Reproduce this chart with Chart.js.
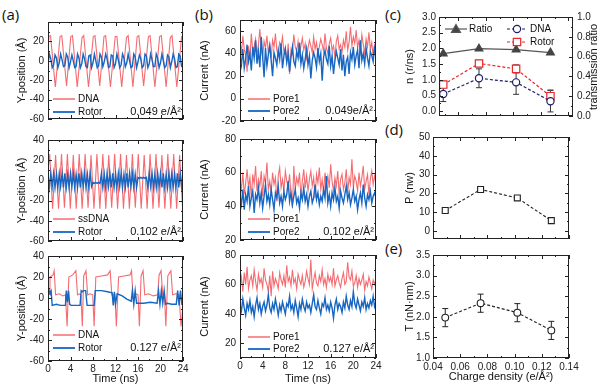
<!DOCTYPE html>
<html>
<head>
<meta charset="utf-8">
<script src="https://cdn.jsdelivr.net/npm/chart.js@4.4.0/dist/chart.umd.min.js"></script>
<style>
body { margin: 0; background: #fff; width: 601px; height: 388px; position: relative; overflow: hidden; }
canvas { position: absolute; }
.tag { position: absolute; font-family: 'Open Sans', sans-serif; font-size: 15px; line-height: 15px; color: #111; }
</style>
</head>
<body>
<div class="tag" style="left:2px;top:7px">(a)</div>
<div class="tag" style="left:195px;top:7px">(b)</div>
<div class="tag" style="left:385px;top:7px">(c)</div>
<div class="tag" style="left:385px;top:122px">(d)</div>
<div class="tag" style="left:385px;top:241px">(e)</div>
<script>
// ---- (a) rotor / DNA y-position traces, time in ns ----
var a1DnaT = [0, 0.15, 0.45, 1.3, 2.15, 2.45, 3.3, 4.05, 4.35, 5.2, 6.05, 6.35, 7.2, 8.05, 8.35, 9.2, 9.95, 10.25, 11.1, 11.95, 12.25, 13.1, 13.95, 14.25, 15.1, 15.85, 16.15, 17.0, 17.85, 18.15, 19.0, 19.85, 20.15, 21.0, 21.75, 22.05, 22.9, 23.75, 24];
var a1DnaY = [22, 25, 26, -27, 25, 26, -26, 25, 26, -27, 24, 26, -27, 25, 26, -26, 25, 26, -27, 25, 25, -27, 24, 26, -27, 25, 26, -26, 25, 26, -27, 25, 26, -27, 24, 26, -27, 25, 26];
// rotor sampled every 0.25 ns
var a1RotorY = [-3, 7, 2, -7, -4, 6, 3, -7, -2, 7,
  1, -6, -5, 7, 4, -7, -1, 6, 0, -7,
  -6, 7, 3, -7, -3, 7, 2, -6, -7, 5,
  6, -7, -2, 7, 0, -7, -5, 7, 4, -6,
  -1, 7, 2, -7, -6, 6, 5, -7, -3, 7,
  1, -7, -4, 7, 3, -6, -2, 7, 0, -7,
  -6, 7, 4, -7, -1, 6, 2, -7, -5, 7,
  5, -7, -3, 7, 1, -6, -6, 7, 3, -7,
  -2, 7, 0, -7, -5, 6, 4, -7, -1, 7,
  2, -7, -6, 7, 5, -6, -6];

var a2DnaT = [0, 0.3, 0.82, 1.35, 1.87, 2.4, 2.92, 3.45, 3.97, 4.5, 5.02, 5.55, 6.07, 6.6, 7.12, 7.65, 8.17, 8.7, 9.22, 9.75, 10.27, 10.8, 11.32, 11.85, 12.37, 12.9, 13.42, 13.95, 14.47, 15.0, 15.52, 16.05, 16.57, 17.1, 17.62, 18.15, 18.67, 19.2, 19.72, 20.25, 20.77, 21.3, 21.82, 22.35, 22.87, 23.4, 23.92, 24];
var a2DnaY = [10, 26, -28, 25, -28, 26, -27, 26, -28, 25, -28, 26, -28, 26, -27, 25, -28, 26, -28, 26, -28, 25, -27, 26, -28, 26, -28, 25, -28, 26, -27, 26, -28, 25, -28, 26, -28, 26, -27, 25, -28, 26, -28, 26, -28, 25, -27, -20];
var a2RotorY = [5, -7, 7, -6, 7, -7, 6, -7, 7, -6,
  7, -7, 7, -7, 6, -7, 7, -6, 7, -7,
  6, -7, 7, -7, 7, -6, 7, -7, 6, -7,
  7, -6, -2, -3, -2, -3, -2, -3, 7, -7,
  6, -7, 7, -6, 7, -7, 7, -7, 6, -7,
  7, -6, 7, -7, 6, -7, 7, -7, 7, -6,
  7, -7, 6, -7, 3, 2, 3, 2, 3, 2,
  3, -7, 7, -6, 7, -7, 6, -7, 7, -6,
  7, -7, 7, -7, 6, -7, 7, -6, 7, -7,
  6, -7, 7, -7, 7, -6, 6];

var a3DnaT = [0, 0.25, 0.35, 0.9, 1.1, 1.35, 2.0, 2.6, 3.1, 3.4, 3.7, 4.4, 4.95, 5.25, 5.6, 5.85, 6.1, 6.35, 6.75, 7.05, 7.5, 7.95, 8.2, 8.5, 9.5, 10.6, 11.05, 11.35, 11.9, 12.15, 12.55, 13.5, 14.6, 14.85, 15.1, 15.6, 16.0, 16.25, 16.55, 16.9, 17.2, 17.9, 18.7, 19.5, 19.75, 20.1, 20.4, 20.7, 20.95, 21.3, 21.85, 22.15, 22.7, 23.3, 23.65, 24];
var a3DnaY = [3, 4, 20, 22, 26, 3, 4, 2, 3, -27, 20, 22, 26, 3, 4, 3, -27, 21, 26, 3, 4, 3, -27, 20, 21, 22, 26, 3, 3, -27, 20, 21, 22, 26, 3, 4, 3, -27, 21, 26, 3, 4, 2, 3, 22, 26, 3, 3, -27, 21, 26, 3, 4, 3, -27, -8];
var a3RotorT = [0, 0.2, 0.35, 0.55, 0.75, 1.5, 2.2, 3.1, 3.25, 3.45, 3.65, 3.85, 4.1, 4.9, 5.7, 5.9, 6.1, 6.3, 6.7, 6.95, 7.6, 8.2, 8.4, 9.5, 10.6, 11.4, 11.6, 11.8, 12.0, 12.3, 13.2, 14.0, 14.8, 15.0, 15.25, 15.5, 15.75, 16.0, 17.0, 18.2, 19.4, 19.65, 19.9, 20.15, 20.4, 20.65, 20.9, 21.2, 22.0, 22.8, 23.05, 23.3, 23.55, 23.8, 24];
var a3RotorY = [4, 7, 5, 7, -7, -6, -7, -7, 7, -4, 7, -6, -7, -7, -7, 7, 6, 7, 7, -7, -7, -7, 7, 7, 6, 5, -7, 6, -6, 4, 2, -1, -3, 7, -6, 7, -5, -5, -5, -4, -5, 7, -6, 7, -5, 7, -6, -5, -6, -6, 7, -7, 7, -6, -6];

// ---- (b) pore currents, sampled evenly over 0-24 ns ----
var b1Pore1 = [52, 40, 56, 44, 38, 24, 47, 35, 58, 42, 46, 53, 39, 48, 62, 44, 37, 51, 45, 56,
  41, 48, 36, 52, 46, 58, 43, 39, 50, 47, 55, 41, 46, 33, 49, 22, 44, 40, 57, 46,
  42, 51, 38, 47, 54, 43, 49, 36, 45, 52, 47, 41, 55, 44, 50, 39, 46, 53, 48, 42,
  58, 45, 40, 49, 54, 43, 47, 37, 51, 56, 44, 48, 41, 52, 46, 60, 43, 50, 64, 47,
  55, 49, 61, 45, 52, 42, 57, 48, 40, 53, 46, 59, 44, 50, 37, 48, 45];
var b1Pore2 = [38, 30, 44, 27, 35, 48, 33, 40, 25, 46, 36, 52, 31, 42, 28, 55, 37, 19, 45, 29,
  39, 47, 34, 20, 41, 36, 30, 43, 35, 49, 27, 38, 44, 32, 40, 24, 37, 46, 33, 29,
  42, 36, 50, 31, 39, 27, 35, 44, 30, 38, 18, 34, 41, 36, 28, 45, 33, 40, 16, 37,
  43, 35, 31, 47, 29, 38, 22, 34, 42, 36, 30, 44, 25, 39, 20, 33, 37, 22, 41, 35,
  46, 30, 38, 43, 27, 52, 34, 40, 31, 45, 36, 29, 42, 38, 33, 47, 35];
var b2Pore1 = [56, 50, 60, 47, 54, 62, 51, 57, 45, 59, 53, 64, 49, 56, 52, 61, 46, 58, 54, 66,
  50, 55, 48, 60, 53, 57, 43, 58, 63, 51, 56, 49, 61, 55, 52, 59, 47, 39, 64, 50,
  57, 53, 60, 46, 55, 62, 51, 58, 49, 56, 61, 52, 57, 45, 59, 54, 63, 50, 56, 48,
  60, 53, 58, 51, 65, 55, 49, 57, 52, 61, 47, 56, 59, 50, 54, 62, 48, 57, 53, 68,
  51, 58, 55, 49, 60, 52, 57, 64, 50, 55, 59, 47, 56, 61, 53, 58, 54];
var b2Pore2 = [46, 41, 50, 38, 47, 43, 52, 40, 45, 49, 36, 47, 44, 51, 42, 48, 39, 46, 53, 43,
  47, 41, 50, 44, 38, 48, 45, 52, 42, 46, 40, 49, 44, 47, 55, 43, 48, 41, 46, 50,
  42, 45, 39, 48, 44, 51, 43, 47, 40, 46, 49, 42, 45, 53, 44, 48, 41, 46, 43, 50,
  45, 58, 42, 47, 40, 48, 44, 51, 43, 46, 39, 49, 45, 42, 47, 52, 44, 48, 41, 45,
  50, 43, 46, 38, 44, 48, 42, 53, 45, 40, 47, 44, 49, 42, 46, 48, 45];
var b3Pore1 = [58, 65, 55, 68, 60, 72, 57, 63, 66, 59, 70, 62, 56, 67, 61, 64, 58, 71, 63, 60,
  55, 66, 52, 69, 59, 64, 61, 57, 68, 63, 60, 66, 58, 73, 62, 65, 59, 70, 61, 64,
  57, 67, 63, 60, 66, 58, 62, 69, 64, 60, 77, 57, 63, 68, 61, 59, 66, 62, 70, 60,
  64, 58, 67, 62, 65, 60, 71, 59, 63, 66, 61, 58, 64, 68, 60, 62, 75, 65, 63, 69,
  59, 61, 66, 58, 64, 60, 63, 67, 56, 62, 59, 65, 61, 57, 63, 60, 64];
var b3Pore2 = [46, 42, 50, 44, 39, 47, 43, 49, 41, 45, 38, 46, 51, 43, 47, 40, 45, 48, 42, 46,
  53, 44, 41, 47, 43, 50, 45, 39, 46, 42, 48, 44, 40, 47, 45, 52, 43, 46, 41, 49,
  44, 38, 47, 43, 50, 45, 42, 48, 44, 46, 41, 47, 53, 45, 43, 49, 44, 40, 47, 45,
  51, 43, 46, 42, 48, 44, 37, 46, 50, 43, 47, 45, 41, 48, 44, 52, 46, 43, 49, 45,
  55, 47, 44, 50, 46, 42, 48, 45, 51, 43, 47, 44, 49, 46, 52, 45, 48];

// ---- (c)-(e) vs charge density ----
var chargeDensity = [0.049, 0.075, 0.102, 0.127];
var ratio = [0.63, 0.68, 0.67, 0.64];
var nDna = [0.55, 1.05, 0.92, 0.32];
var nDnaErr = [0.24, 0.3, 0.38, 0.34];
var nRotor = [0.85, 1.52, 1.35, 0.48];
var nRotorErr = [0.1, 0.1, 0.13, 0.2];
var power = [10.8, 22.0, 17.5, 5.4];
var powerErr = [0.8, 0.8, 0.8, 0.8];
var torque = [1.98, 2.33, 2.1, 1.67];
var torqueErr = [0.22, 0.22, 0.22, 0.22];

var RED = 'rgba(243,92,98,0.9)';
var BLUE = '#1666c2';
var FONT = "'Liberation Sans', Arial, sans-serif";

Chart.defaults.font.family = FONT;
Chart.defaults.font.size = 10;
Chart.defaults.color = '#222';
Chart.defaults.animation = false;
Chart.defaults.plugins.legend.display = false;
Chart.defaults.plugins.tooltip.enabled = false;

function pairs(t, y) {
  return y.map((v, i) => ({x: t[i], y: v}));
}
function even(y, span) {
  return y.map((v, i) => ({x: i * span / (y.length - 1), y: v}));
}

// frame + inward ticks, like the origin plots
const frame = {
  id: 'frame',
  afterDraw(chart, args, o) {
    const ctx = chart.ctx, a = chart.chartArea;
    ctx.save();
    ctx.strokeStyle = '#222';
    ctx.lineWidth = 1;
    ctx.setLineDash([]);
    ctx.strokeRect(Math.round(a.left) + 0.5, Math.round(a.top) + 0.5, Math.round(a.right - a.left) - 1, Math.round(a.bottom - a.top) - 1);
    (o.ticks || []).forEach(spec => {
      const s = chart.scales[spec.id];
      const minor = spec.major / 2;
      const start = Math.floor(s.min / spec.major) * spec.major;
      for (let i = 0; ; i++) {
        const v = start + i * minor;
        if (v > s.max + 1e-9) break;
        if (v < s.min - 1e-9) continue;
        const len = i % 2 === 0 ? 4 : 2;
        const p = Math.round(s.getPixelForValue(v)) + 0.5;
        ctx.beginPath();
        spec.sides.forEach(side => {
          if (side === 'b') { ctx.moveTo(p, a.bottom); ctx.lineTo(p, a.bottom - len); }
          if (side === 't') { ctx.moveTo(p, a.top); ctx.lineTo(p, a.top + len); }
          if (side === 'l') { ctx.moveTo(a.left, p); ctx.lineTo(a.left + len, p); }
          if (side === 'r') { ctx.moveTo(a.right, p); ctx.lineTo(a.right - len, p); }
        });
        ctx.stroke();
      }
    });
    ctx.restore();
  }
};

function mark(ctx, style, x, y, r, stroke, fill) {
  ctx.beginPath();
  ctx.setLineDash([]);
  if (style === 'circle') ctx.arc(x, y, r, 0, Math.PI * 2);
  else if (style === 'rect') ctx.rect(x - r, y - r, 2 * r, 2 * r);
  else { ctx.moveTo(x, y - r); ctx.lineTo(x + r, y + r * 0.75); ctx.lineTo(x - r, y + r * 0.75); ctx.closePath(); }
  ctx.fillStyle = fill;
  ctx.fill();
  ctx.strokeStyle = stroke;
  ctx.lineWidth = 1.2;
  ctx.stroke();
}

// legends and labels, given in page coordinates
const notes = {
  id: 'notes',
  afterDraw(chart, args, o) {
    const ctx = chart.ctx;
    ctx.save();
    ctx.translate(-o.ox, -o.oy);
    (o.items || []).forEach(it => {
      if (it.x1 !== undefined) {
        ctx.beginPath();
        ctx.strokeStyle = it.color;
        ctx.lineWidth = it.width || 1.5;
        ctx.setLineDash(it.dash || []);
        ctx.moveTo(it.x1, it.y);
        ctx.lineTo(it.x2, it.y);
        ctx.stroke();
        if (it.mk) mark(ctx, it.mk, (it.x1 + it.x2) / 2, it.y, it.mr, it.color, it.mfill || '#fff');
      }
      if (it.text) {
        ctx.setLineDash([]);
        ctx.fillStyle = '#111';
        ctx.font = (it.size || 10) + 'px ' + FONT;
        ctx.textAlign = it.align || 'left';
        ctx.textBaseline = 'middle';
        if (it.rot) {
          ctx.save();
          ctx.translate(it.tx, it.y);
          ctx.rotate(-Math.PI / 2);
          ctx.fillText(it.text, 0, 0);
          ctx.restore();
        } else {
          ctx.fillText(it.text, it.tx, it.y);
        }
      }
    });
    ctx.restore();
  }
};

const ebars = {
  id: 'ebars',
  beforeDatasetsDraw(chart) {
    const ctx = chart.ctx;
    chart.data.datasets.forEach((ds, di) => {
      if (!ds.errors) return;
      const meta = chart.getDatasetMeta(di);
      const ys = chart.scales[meta.yAxisID];
      ctx.save();
      ctx.strokeStyle = ds.errColor || ds.borderColor;
      ctx.lineWidth = 1;
      ctx.setLineDash([]);
      meta.data.forEach((pt, i) => {
        const v = ds.data[i].y, e = ds.errors[i];
        const y1 = ys.getPixelForValue(v + e), y2 = ys.getPixelForValue(v - e);
        ctx.beginPath();
        ctx.moveTo(pt.x, y1); ctx.lineTo(pt.x, y2);
        ctx.moveTo(pt.x - 3, y1); ctx.lineTo(pt.x + 3, y1);
        ctx.moveTo(pt.x - 3, y2); ctx.lineTo(pt.x + 3, y2);
        ctx.stroke();
      });
      ctx.restore();
    });
  }
};

Chart.register(frame, notes, ebars);

function axis(min, max, step, more) {
  const ax = {
    type: 'linear', min: min, max: max,
    grid: {display: false, drawTicks: false},
    border: {display: false},
    ticks: {stepSize: step, includeBounds: false, padding: 4, font: {size: 10}, color: '#222'}
  };
  if (more) {
    if (more.ticks) Object.assign(ax.ticks, more.ticks);
    if (more.title) ax.title = Object.assign({display: true, padding: 0, font: {size: 11}, color: '#111'}, more.title);
    if (more.position) ax.position = more.position;
  }
  return ax;
}

// box = chart area in page pixels, m = margins around it
function panel(box, m, cfg) {
  const cv = document.createElement('canvas');
  const x0 = box[0] - m.left, y0 = box[1] - m.top;
  const w = box[2] - box[0] + m.left + m.right, h = box[3] - box[1] + m.top + m.bottom;
  cv.width = w; cv.height = h;
  cv.style.left = x0 + 'px'; cv.style.top = y0 + 'px';
  cv.style.width = w + 'px'; cv.style.height = h + 'px';
  document.body.appendChild(cv);
  const sc = cfg.options.scales;
  sc.x.afterFit = s => { s.height = m.bottom; };
  sc.y.afterFit = s => { s.width = m.left; };
  if (sc.y2) sc.y2.afterFit = s => { s.width = m.right; };
  cfg.options.responsive = false;
  cfg.options.layout = {padding: {top: m.top, right: sc.y2 ? 0 : m.right, bottom: 0, left: 0}};
  cfg.options.plugins.notes.ox = x0;
  cfg.options.plugins.notes.oy = y0;
  return new Chart(cv, cfg);
}

function traceSet(red, blue) {
  return [
    {data: red, borderColor: RED, borderWidth: 1.1, pointRadius: 0, tension: 0, order: 2},
    {data: blue, borderColor: BLUE, borderWidth: 1.4, pointRadius: 0, tension: 0, order: 1}
  ];
}
function legend(y1, y2, n1, n2, xl, label, lx) {
  return [
    {x1: xl, x2: xl + 22, y: y1, color: RED, width: 1.5, text: n1, tx: xl + 25},
    {x1: xl, x2: xl + 22, y: y2, color: BLUE, width: 1.8, text: n2, tx: xl + 25},
    {text: label, tx: lx, y: y2, align: 'right', size: 11}
  ];
}
var tickA = [{id: 'x', major: 4, sides: ['b', 't']}, {id: 'y', major: 20, sides: ['l', 'r']}];

// (a)
var mA = {left: 33, right: 8, top: 10, bottom: 8};
panel([48, 22, 183, 121], mA, {
  type: 'line',
  data: {datasets: traceSet(pairs(a1DnaT, a1DnaY), even(a1RotorY, 24))},
  options: {
    scales: {
      x: axis(0, 24, 4, {ticks: {display: false}}),
      y: axis(-60, 40, 20, {ticks: {callback: v => v === 40 ? '' : v}, title: {text: 'Y-position (Å)'}})
    },
    plugins: {frame: {ticks: tickA}, notes: {items: legend(99, 112, 'DNA', 'Rotor', 53, '0.049 e/Å²', 181)}}
  }
});
panel([48, 140, 183, 243], mA, {
  type: 'line',
  data: {datasets: traceSet(pairs(a2DnaT, a2DnaY), even(a2RotorY, 24))},
  options: {
    scales: {
      x: axis(0, 24, 4, {ticks: {display: false}}),
      y: axis(-60, 40, 20, {title: {text: 'Y-position (Å)'}})
    },
    plugins: {frame: {ticks: tickA}, notes: {items: legend(219, 232, 'ssDNA', 'Rotor', 53, '0.102 e/Å²', 181)}}
  }
});
panel([48, 256, 183, 361], {left: 33, right: 8, top: 10, bottom: 25}, {
  type: 'line',
  data: {datasets: traceSet(pairs(a3DnaT, a3DnaY), pairs(a3RotorT, a3RotorY))},
  options: {
    scales: {
      x: axis(0, 24, 4, {ticks: {padding: 2}, title: {text: 'Time (ns)'}}),
      y: axis(-60, 40, 20, {title: {text: 'Y-position (Å)'}})
    },
    plugins: {frame: {ticks: tickA}, notes: {items: legend(335, 348, 'DNA', 'Rotor', 53, '0.127 e/Å²', 181)}}
  }
});

// (b)
var mB = {left: 42, right: 8, top: 10, bottom: 8};
var tickB = [{id: 'x', major: 4, sides: ['b', 't']}, {id: 'y', major: 20, sides: ['l', 'r']}];
panel([240, 20, 376, 123], mB, {
  type: 'line',
  data: {datasets: traceSet(even(b1Pore1, 24), even(b1Pore2, 24))},
  options: {
    scales: {
      x: axis(0, 24, 4, {ticks: {display: false}}),
      y: axis(-20, 70, 20, {title: {text: 'Current (nA)'}})
    },
    plugins: {frame: {ticks: tickB}, notes: {items: legend(99, 111, 'Pore1', 'Pore2', 248, '0.049e/Å²', 373)}}
  }
});
panel([240, 139, 376, 242], mB, {
  type: 'line',
  data: {datasets: traceSet(even(b2Pore1, 24), even(b2Pore2, 24))},
  options: {
    scales: {
      x: axis(0, 24, 4, {ticks: {display: false}}),
      y: axis(20, 80, 20, {title: {text: 'Current (nA)'}})
    },
    plugins: {frame: {ticks: tickB}, notes: {items: legend(219, 232, 'Pore1', 'Pore2', 248, '0.102 e/Å²', 374)}}
  }
});
panel([240, 255, 376, 358], {left: 42, right: 8, top: 10, bottom: 28}, {
  type: 'line',
  data: {datasets: traceSet(even(b3Pore1, 24), even(b3Pore2, 24))},
  options: {
    scales: {
      x: axis(0, 24, 4, {ticks: {padding: 2}, title: {text: 'Time (ns)'}}),
      y: axis(10, 80, 20, {title: {text: 'Current (nA)'}})
    },
    plugins: {frame: {ticks: tickB}, notes: {items: legend(337, 349, 'Pore1', 'Pore2', 248, '0.127 e/Å²', 374)}}
  }
});

// (c)
var NAVY = '#1c1f66';
var CRED = '#e8262b';
panel([439, 17, 573, 118], {left: 36, right: 28, top: 10, bottom: 8}, {
  type: 'line',
  data: {datasets: [
    {data: pairs(chargeDensity, ratio), yAxisID: 'y2', borderColor: '#555', borderWidth: 1.2,
     pointStyle: 'triangle', pointRadius: 4.5, pointBackgroundColor: '#444', pointBorderColor: '#444'},
    {data: pairs(chargeDensity, nDna), errors: nDnaErr, errColor: '#333', borderColor: NAVY, borderWidth: 1.2, borderDash: [3, 2],
     pointStyle: 'circle', pointRadius: 3.6, pointBorderWidth: 1.2, pointBackgroundColor: '#fff', pointBorderColor: NAVY},
    {data: pairs(chargeDensity, nRotor), errors: nRotorErr, errColor: '#555', borderColor: CRED, borderWidth: 1.2, borderDash: [3, 2],
     pointStyle: 'rect', pointRadius: 5.2, pointBorderWidth: 1.2, pointBackgroundColor: '#fff', pointBorderColor: CRED}
  ]},
  options: {
    scales: {
      x: axis(0.0459, 0.1434, 0.02, {ticks: {display: false}}),
      y: axis(-0.15, 3.0, 0.5, {ticks: {callback: v => v.toFixed(1), padding: 3}, title: {text: 'n (r/ns)'}}),
      y2: axis(0, 1.0, 0.2, {position: 'right', ticks: {callback: v => v.toFixed(1), padding: 4}})
    },
    plugins: {
      frame: {ticks: [{id: 'x', major: 0.02, sides: ['b', 't']}, {id: 'y', major: 0.5, sides: ['l']}, {id: 'y2', major: 0.2, sides: ['r']}]},
      notes: {items: [
        {x1: 445, x2: 467, y: 29, color: '#555', width: 1.2, mk: 'triangle', mr: 4.5, mfill: '#444', text: 'Ratio', tx: 469},
        {x1: 507, x2: 527, y: 29, color: NAVY, width: 1.2, dash: [3, 2], mk: 'circle', mr: 3.6, text: 'DNA', tx: 530},
        {x1: 507, x2: 527, y: 42, color: CRED, width: 1.2, dash: [3, 2], mk: 'rect', mr: 3.7, text: 'Rotor', tx: 530},
        {text: 'transmission ratio', tx: 594, y: 67, rot: true, align: 'center', size: 11}
      ]}
    }
  }
});

// (d)
panel([433, 137, 569, 240], {left: 30, right: 20, top: 10, bottom: 8}, {
  type: 'line',
  data: {datasets: [
    {data: pairs(chargeDensity, power), errors: powerErr, borderColor: '#222', borderWidth: 1.1, borderDash: [3, 2],
     pointStyle: 'rect', pointRadius: 4.2, pointBorderWidth: 1.1, pointBackgroundColor: '#fff', pointBorderColor: '#222'}
  ]},
  options: {
    scales: {
      x: axis(0.04, 0.14, 0.02, {ticks: {display: false}}),
      y: axis(-4.4, 50, 10, {ticks: {padding: 3}, title: {text: 'P (nw)'}})
    },
    plugins: {
      frame: {ticks: [{id: 'x', major: 0.02, sides: ['b', 't']}, {id: 'y', major: 10, sides: ['l', 'r']}]},
      notes: {items: []}
    }
  }
});

// (e)
panel([433, 255, 569, 358], {left: 30, right: 20, top: 10, bottom: 26}, {
  type: 'line',
  data: {datasets: [
    {data: pairs(chargeDensity, torque), errors: torqueErr, borderColor: '#222', borderWidth: 1.1, borderDash: [3, 2],
     pointStyle: 'circle', pointRadius: 3.4, pointBorderWidth: 1.1, pointBackgroundColor: '#fff', pointBorderColor: '#222'}
  ]},
  options: {
    scales: {
      x: axis(0.04, 0.14, 0.02, {ticks: {callback: v => v.toFixed(2), padding: 3}, title: {text: 'Charge density (e/Å²)'}}),
      y: axis(1.0, 3.5, 0.5, {ticks: {callback: v => v.toFixed(1), padding: 3}, title: {text: 'T (nN·nm)'}})
    },
    plugins: {
      frame: {ticks: [{id: 'x', major: 0.02, sides: ['b', 't']}, {id: 'y', major: 0.5, sides: ['l', 'r']}]},
      notes: {items: []}
    }
  }
});
</script>
</body>
</html>
